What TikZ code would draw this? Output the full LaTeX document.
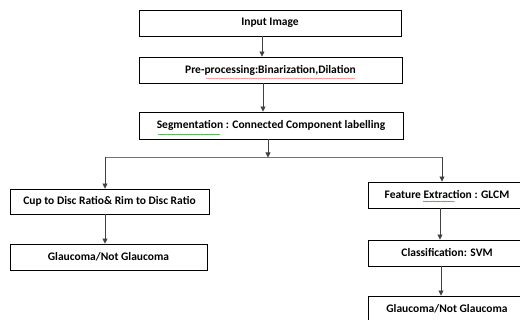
\documentclass[tikz,border=0pt]{standalone}
\usepackage{fontspec}
\setmainfont{Carlito}
\usetikzlibrary{arrows.meta,decorations.pathmorphing,calc}
\begin{document}
\begin{tikzpicture}[x=1pt,y=-1pt,
  box/.style={draw=black,line width=0.9pt,rectangle,inner sep=0pt,font=\bfseries\fontsize{11.5}{13}\selectfont},
  conn/.style={draw=black!75,line width=0.8pt},
  arr/.style={conn,-{Triangle[length=5pt,width=5pt]}},
  redwave/.style={draw=red!60,line width=0.35pt,decorate,decoration={snake,amplitude=0.5pt,segment length=2.2pt}},
  greenwave/.style={draw=green!55!black,line width=0.35pt,decorate,decoration={snake,amplitude=0.5pt,segment length=2.2pt}}]
\useasboundingbox (0,0) rectangle (520,320);
\begin{scope}
\clip (0,0) rectangle (520,320);
\node[box,minimum width=262pt,minimum height=26pt] (in) at (270,23) {Input Image};
\node[box,minimum width=263pt,minimum height=26pt] (pre) at (270.5,70) {Pre-processing:Binarization,Dilation};
\node[box,minimum width=264pt,minimum height=27pt] (seg) at (271,125.5) {Segmentation : Connected Component labelling};
\node[box,minimum width=199pt,minimum height=25pt] (cup) at (109.5,201.5) {Cup to Disc Ratio\& Rim to Disc Ratio};
\node[box,minimum width=197pt,minimum height=26pt] (gl) at (108.5,257) {Glaucoma/Not Glaucoma};
\node[box,minimum width=158pt,minimum height=26pt] (fe) at (447,195) {Feature Extraction : GLCM};
\node[box,minimum width=158pt,minimum height=26pt] (cl) at (447,253) {Classification: SVM};
\node[box,minimum width=158pt,minimum height=26pt] (gr) at (447,309) {Glaucoma/Not Glaucoma};
\end{scope}
\coordinate (split) at (268,157.5);
\coordinate (lft) at (105,157.5);
\coordinate (rgt) at (442,157.5);
\draw[arr] ($(in.south)+(-8,0)$) -- ($(pre.north)+(-8.5,0)$);
\draw[arr] ($(pre.south)+(-7.5,0)$) -- ($(seg.north)+(-8,0)$);
\draw[arr] ($(seg.south)+(-3,0)$) -- (split);
\draw[conn,draw=black!55] (lft) -- (rgt);
\draw[arr] (lft) -- (lft |- cup.north);
\draw[arr] (rgt) -- (rgt |- fe.north);
\draw[arr] ($(cup.south)+(-4.5,0)$) -- ($(gl.north)+(-3.5,0)$);
\draw[arr] ($(fe.south)+(-7,0)$) -- ($(cl.north)+(-7,0)$);
\draw[arr] ($(cl.south)+(-6,0)$) -- ($(gr.north)+(-6,0)$);
\draw[redwave] (206,78.5) -- (355,78.5);
\draw[greenwave] (158,134.5) -- (220,134.5);
\draw[greenwave] (423,201.5) -- (455,201.5);
\end{tikzpicture}
\end{document}
